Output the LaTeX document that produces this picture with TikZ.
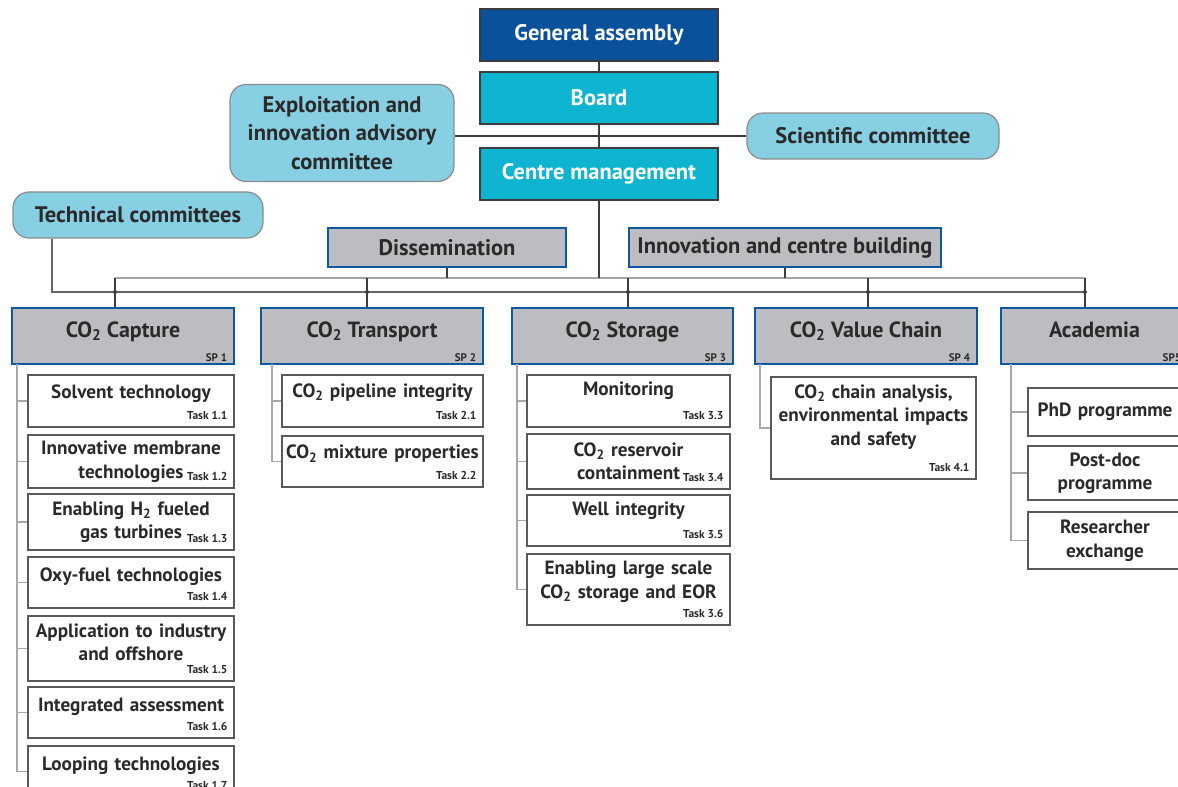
\documentclass[tikz,border=0pt]{standalone}
\usepackage{fontspec}
\setmainfont{PT Sans}
\usetikzlibrary{positioning,calc}
\definecolor{gablue}{HTML}{0A519B}
\definecolor{bdcyan}{HTML}{0FB4D0}
\definecolor{cmtblue}{HTML}{87CFE3}
\definecolor{spgrey}{HTML}{BCBDC1}
\definecolor{spedge}{HTML}{0D57A5}
\definecolor{txt}{HTML}{2A2A2A}
\definecolor{topedge}{HTML}{3C3C3C}
\definecolor{cmtedge}{HTML}{8C8C8C}
\definecolor{taskedge}{HTML}{5A5A5A}
\definecolor{busline}{HTML}{A3A3A3}
\definecolor{lowline}{HTML}{666666}
\definecolor{treeline}{HTML}{A8A8A8}
\newcommand{\cotwo}{CO\textsubscript{2}}
\newcommand{\upby}[1]{\par\kern#1pt}

\begin{document}
\begin{tikzpicture}[x=1pt,y=-1pt]
    \tikzstyle{top}=[rectangle, draw=topedge, line width=1.5pt, text=white, inner sep=0pt, minimum width=238pt, minimum height=52pt, font=\bfseries\fontsize{22.5}{26}\selectfont]
    \tikzstyle{cmt}=[rectangle, rounded corners=16pt, draw=cmtedge, line width=1.2pt, fill=cmtblue, text=txt, inner sep=0pt, align=center, font=\bfseries\fontsize{22.5}{28.5}\selectfont]
    \tikzstyle{sub}=[rectangle, draw=spedge, line width=2.5pt, fill=spgrey, text=txt, inner sep=0pt, minimum height=39pt, font=\bfseries\fontsize{22.5}{26}\selectfont]
    \tikzstyle{hdr}=[sub, minimum height=56pt, text height=16pt, text depth=14pt, font=\bfseries\fontsize{22}{25}\selectfont]
    \tikzstyle{task}=[rectangle, draw=taskedge, line width=1.4pt, fill=white, text=txt, inner sep=0pt, align=center, font=\bfseries\fontsize{19.2}{23.5}\selectfont]
    \tikzstyle{col1}=[task, minimum width=206pt, text width=196pt]
    \tikzstyle{col2}=[task, minimum width=201pt, text width=193pt]
    \tikzstyle{col3}=[task, minimum width=203pt, text width=195pt]
    \tikzstyle{col4}=[task, minimum width=205pt, text width=197pt]
    \tikzstyle{col5}=[task, minimum width=154pt, text width=144pt]
    \tikzstyle{tlbl}=[anchor=south east, draw=none, fill=none, minimum size=0pt, text width=, inner xsep=7pt, inner ysep=7.5pt, text=txt, font=\bfseries\fontsize{11.5}{12}\selectfont]
    \tikzstyle{splbl}=[tlbl, inner xsep=8pt, inner ysep=3.5pt, font=\bfseries\fontsize{11}{12}\selectfont]
    \tikzstyle{link}=[draw=topedge, line width=1.2pt]
    \tikzstyle{bus}=[draw=busline, line width=1.5pt]
    \tikzstyle{lbus}=[draw=lowline, line width=1.3pt]
    \tikzstyle{tree}=[draw=treeline, line width=1.2pt]

    \useasboundingbox (0,0) rectangle (1178,787);
    \clip (0,0) rectangle (1178,787);

    \node[top, fill=gablue] (ga) at (599,35) {General assembly};
    \node[top, fill=bdcyan] (brd) at (599,98) {Board};
    \node[top, fill=bdcyan] (cm) at (599,174) {Centre management};
    \node[cmt, minimum width=224pt, minimum height=97pt] (eia) at (342,133) {Exploitation and\\innovation advisory\\committee};
    \node[cmt, minimum width=252pt, minimum height=46pt] (sc) at (873,136) {Scientific committee};
    \node[cmt, minimum width=250pt, minimum height=46pt] (tc) at (138,215) {Technical committees};
    \node[sub, minimum width=238pt] (dis) at (447,247.5) {Dissemination};
    \node[sub, minimum width=312pt] (inn) at (785,247.5) {Innovation and centre building};

    \node[hdr, minimum width=222pt, label={[splbl]south east:SP 1}] (cap) at (123,336) {\cotwo{} Capture};
    \node[hdr, minimum width=222pt, label={[splbl]south east:SP 2}] (tra) at (372,336) {\cotwo{} Transport};
    \node[hdr, minimum width=221pt, label={[splbl]south east:SP 3}] (sto) at (622.5,336) {\cotwo{} Storage};
    \node[hdr, minimum width=222pt, label={[splbl]south east:SP 4}] (val) at (866,336) {\cotwo{} Value Chain};
    \node[hdr, minimum width=187pt, label={[splbl]south east:SP5}] (aca) at (1094.5,336) {Academia};

    \node[col1, minimum height=52pt, label={[tlbl]south east:Task 1.1}] (t11) at (131,401) {Solvent technology\upby{14}};
    \node[col1, minimum height=53pt, label={[tlbl]south east:Task 1.2}] (t12) at (131,461.5) {Innovative membrane\\technologies};
    \node[col1, minimum height=56pt, label={[tlbl]south east:Task 1.3}] (t13) at (131,522) {Enabling H\textsubscript{2} fueled\\gas turbines};
    \node[col1, minimum height=51pt, label={[tlbl]south east:Task 1.4}] (t14) at (131,582.5) {Oxy-fuel technologies\upby{12}};
    \node[col1, minimum height=65pt, label={[tlbl]south east:Task 1.5}] (t15) at (131,648.5) {Application to industry\\and offshore\upby{12}};
    \node[col1, minimum height=51pt, label={[tlbl]south east:Task 1.6}] (t16) at (131,712.5) {Integrated assessment\upby{12}};
    \node[col1, minimum height=51pt, label={[tlbl]south east:Task 1.7}] (t17) at (131,771.5) {Looping technologies\upby{11}};

    \node[col2, minimum height=52pt, label={[tlbl]south east:Task 2.1}] (t21) at (382.5,401) {\cotwo{} pipeline integrity\upby{16}};
    \node[col2, minimum height=51pt, label={[tlbl]south east:Task 2.2}] (t22) at (382.5,461.5) {\cotwo{} mixture properties\upby{15}};

    \node[col3, minimum height=52pt, label={[tlbl]south east:Task 3.3}] (t33) at (628.5,401) {Monitoring\upby{20}};
    \node[col3, minimum height=55pt, label={[tlbl]south east:Task 3.4}] (t34) at (628.5,461.5) {\cotwo{} reservoir\\containment};
    \node[col3, minimum height=51pt, label={[tlbl]south east:Task 3.5}] (t35) at (628.5,520.5) {Well integrity\upby{19}};
    \node[col3, minimum height=71pt, label={[tlbl]south east:Task 3.6}] (t36) at (628.5,589.5) {Enabling large scale\\\cotwo{} storage and EOR\upby{16}};

    \node[col4, minimum height=102pt, label={[tlbl]south east:Task 4.1}] (t41) at (873.5,428) {\cotwo{} chain analysis,\\environmental impacts\\and safety\upby{22}};

    \node[col5, minimum height=48pt] (a1) at (1105,412) {PhD programme};
    \node[col5, minimum height=54pt] (a2) at (1105,473) {Post-doc\\programme};
    \node[col5, minimum height=57pt] (a3) at (1105,540.5) {Researcher\\exchange};

    \coordinate (d1) at (115,278);
    \coordinate (d2) at (367,278);
    \coordinate (d3) at (628,278);
    \coordinate (d4) at (868,278);
    \coordinate (d5) at (1085,278);
    \coordinate (l0) at (52,292);

    \draw[link] (ga) -- (brd);
    \draw[link] (brd) -- (cm);
    \draw[link] (sc.west -| eia.east) -- (sc.west);
    \draw[bus] (d1) -- (d5);
    \draw[link] (cm) -- (cm |- d1);
    \draw[link] (dis) -- (dis |- d1);
    \draw[link] (inn) -- (inn |- d1);
    \draw[lbus] (l0 |- tc.south) -- (l0) -- (l0 -| d5);
    \foreach \d/\s in {d1/cap,d2/tra,d3/sto,d4/val,d5/aca} {
        \draw[link] (\d) -- (\d |- \s.north);
        \fill[topedge] (\d |- l0) circle (2pt);
    }

    \coordinate (k1) at (17,364);
    \coordinate (k2) at (272,364);
    \coordinate (k3) at (517,364);
    \coordinate (k4) at (760,364);
    \coordinate (k5) at (1011,364);
    \draw[tree] (k1) |- (t17.west);
    \foreach \t in {t11,t12,t13,t14,t15,t16} \draw[tree] (k1 |- \t.west) -- (\t.west);
    \draw[tree] (k2) |- (t22.west);
    \draw[tree] (k2 |- t21.west) -- (t21.west);
    \draw[tree] (k3) |- (t36.west);
    \foreach \t in {t33,t34,t35} \draw[tree] (k3 |- \t.west) -- (\t.west);
    \draw[tree] (k4) |- (t41.west);
    \draw[tree] (k5) |- (a3.west);
    \foreach \t in {a1,a2} \draw[tree] (k5 |- \t.west) -- (\t.west);
\end{tikzpicture}
\end{document}
